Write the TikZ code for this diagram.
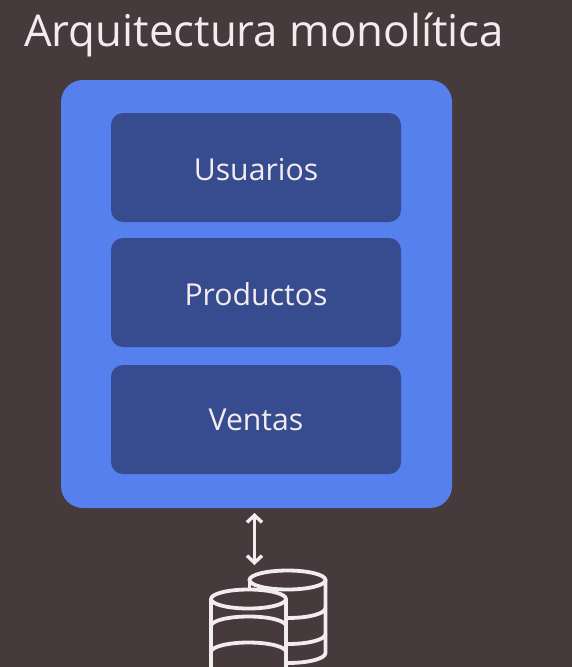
\documentclass[tikz,border=0pt]{standalone}
\usepackage{fontspec}
\setmainfont{Open Sans}
\usetikzlibrary{arrows.meta}
\definecolor{bgc}{HTML}{463A3C}
\definecolor{outerc}{HTML}{5580EE}
\definecolor{innerc}{HTML}{364C8E}
\definecolor{txtc}{HTML}{F3ECEE}
\tikzset{
  x=1pt,y=-1pt,
  outerbox/.style={fill=outerc,draw=none,rounded corners=22pt,minimum width=391pt,minimum height=428pt,inner sep=0pt},
  modbox/.style={fill=innerc,draw=none,rounded corners=12pt,minimum width=290pt,minimum height=109pt,inner sep=0pt,text=txtc,font=\fontsize{30.2}{34}\selectfont},
  titletext/.style={text=txtc,font=\fontsize{43.8}{50}\selectfont,inner sep=0pt,anchor=base west},
  dbline/.style={draw=txtc,line width=3.8pt},
  linkarrow/.style={draw=txtc,line width=3.4pt,{Straight Barb[length=7pt,width=15pt]}-{Straight Barb[length=7pt,width=15pt]},line join=round}
}
\begin{document}
\begin{tikzpicture}
\useasboundingbox (0,0) rectangle (572,667);
\fill[bgc] (0,0) rectangle (572,667);
\node[titletext] (title) at (24,46) {Arquitectura monolítica};
\node[outerbox] (mono) at (256.5,294) {};
\node[modbox] (usuarios) at (256,167.5) {\raisebox{-2pt}[\height][\depth]{Usuarios}};
\node[modbox] (productos) at (256,292.5) {\raisebox{-2pt}[\height][\depth]{Productos}};
\node[modbox] (ventas) at (256,419.5) {Ventas};
\coordinate (linkA) at (254.5,513);
\coordinate (linkB) at (254.5,565);
\draw[linkarrow] (linkA) -- (linkB);
\begin{scope}
\clip (0,0) rectangle (572,667);
% back cylinder
\draw[dbline] (249.5,580) -- (249.5,590);
\draw[dbline] (325.5,580) -- (325.5,653) arc[start angle=0,end angle=90,x radius=37.5,y radius=10];
\draw[dbline] (288,618) arc[start angle=90,end angle=0,x radius=37.5,y radius=10];
\draw[dbline] (288,644) arc[start angle=90,end angle=0,x radius=37.5,y radius=10];
\draw[dbline] (287.5,580) ellipse[x radius=38,y radius=9.5];
% front cylinder
\fill[bgc] (211,599) rectangle (286.5,680);
\fill[bgc] (248.5,599) ellipse[x radius=37.5,y radius=9.5];
\draw[dbline] (248.5,599) ellipse[x radius=37.5,y radius=9.5];
\draw[dbline] (211,599) -- (211,680);
\draw[dbline] (286,599) -- (286,680);
\draw[dbline] (211,626) arc[start angle=180,end angle=360,x radius=37.5,y radius=9.5];
\draw[dbline] (211,652) arc[start angle=180,end angle=360,x radius=37.5,y radius=9.5];
\end{scope}
\end{tikzpicture}
\end{document}
